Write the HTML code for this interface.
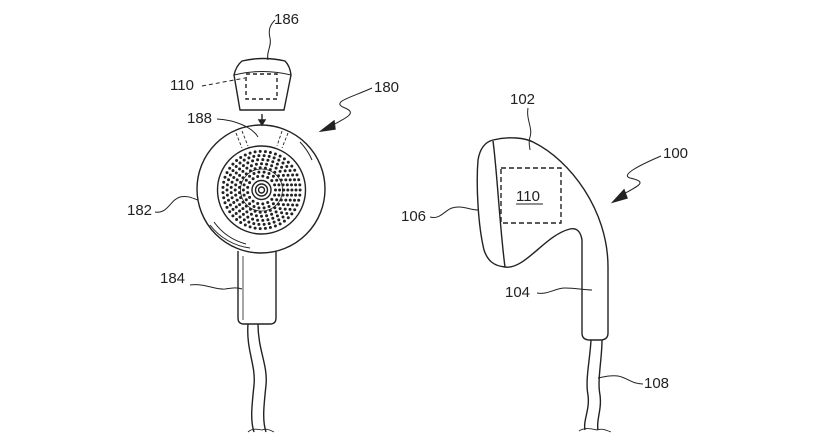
<!DOCTYPE html>
<html><head><meta charset="utf-8"><style>
html,body{margin:0;padding:0;background:#fff}
svg{display:block}
text{font-family:"Liberation Sans",sans-serif;font-size:15px;fill:#222}
</style></head><body>
<svg id="s" width="820" height="440" viewBox="0 0 820 440" xmlns="http://www.w3.org/2000/svg" fill="none" stroke="#222" stroke-width="1.4">
<circle cx="261" cy="189" r="64"/>
<path d="M210 225 A60 60 0 0 0 250 248" stroke-width="1"/>
<path d="M214 222 A58 58 0 0 0 246 244" stroke-width="1"/>
<path d="M300 142 A58 58 0 0 1 312 160" stroke-width="1"/>
<circle cx="261.5" cy="190" r="44"/>
<circle cx="261.5" cy="190" r="3"/>
<circle cx="261.5" cy="190" r="6"/>
<circle cx="261.5" cy="190" r="9.5"/>
<circle cx="261.5" cy="190" r="21" stroke-width="0.8"/>
<g id="dots" fill="#222" stroke="none"></g>
<g stroke-dasharray="3,2" stroke-width="0.9">
<path d="M236 133 L242 148"/><path d="M242 131 L248 146"/>
<path d="M282 131 L277 146"/><path d="M288 133 L282 148"/>
</g>
<path d="M238 251 L238 318 Q238 324 244 324 L270 324 Q276 324 276 318 L276 251"/>
<path d="M243 256 L243 320" stroke-width="0.8"/>
<path d="M248 324 C246 350 256 365 254 385 C252 405 250 420 254 432"/>
<path d="M258 324 C258 350 268 365 266 385 C264 405 262 420 266 432"/>
<path d="M248 432 C252 428 258 429 262 430 C266 428 270 430 274 432" stroke-width="0.9"/>
<path d="M242 61 Q263 56 285 61 Q290 66 291 75 L284 110 L240 110 L234 75 Q236 66 242 61 Z"/>
<path d="M234 75 Q262 68 291 75" stroke-width="1"/>
<rect x="246" y="74" width="31" height="25" stroke-dasharray="4,3"/>
<path d="M262 114 L262 123"/>
<path d="M259 120 L262 125 L265 120 Z" fill="#222"/>
<text x="274" y="24" stroke="none">186</text>
<path d="M275 20 C270 25 268 30 270 38 C272 46 266 52 268 60" stroke-width="1"/>
<text x="170" y="90" stroke="none">110</text>
<path d="M202 86 L245 78" stroke-dasharray="4,3" stroke-width="1"/>
<text x="187" y="123" stroke="none">188</text>
<path d="M217 119 C235 120 252 127 258 137" stroke-width="1"/>
<text x="374" y="92" stroke="none">180</text>
<path d="M372 88 C350 98 330 102 345 108 C360 114 340 120 328 128" stroke-width="1"/>
<path d="M321 131 L334 121 L335 129 Z" fill="#222"/>
<text x="127" y="215" stroke="none">182</text>
<path d="M155 212 C168 214 170 200 180 197 C188 195 194 199 198 200" stroke-width="1"/>
<text x="160" y="283" stroke="none">184</text>
<path d="M190 285 C205 283 215 290 225 289 C232 288 236 287 242 289" stroke-width="1"/>
<path d="M493 140 C510 136 525 138 533 142 C570 160 608 210 608 267 L608 333 Q608 340 600 340 L590 340 Q582 340 582 333 L582 240 Q580 227 570 229 C545 235 525 270 505 267 C495 266 488 262 484 250 C478 225 476 185 478 160 C480 148 485 142 493 140 Z"/>
<path d="M493 141 C497 170 500 230 505 267"/>
<rect x="501" y="168" width="60" height="55" stroke-dasharray="5,3"/>
<text x="516" y="201" stroke="none">110</text>
<path d="M516 204 L543 204" stroke-width="1"/>
<path d="M591 340 C590 360 585 380 588 395 C590 410 583 420 585 430"/>
<path d="M602 340 C602 360 597 380 600 395 C602 410 596 420 598 430"/>
<path d="M579 431 C585 427 592 429 597 430 C602 428 606 430 611 432" stroke-width="0.9"/>
<text x="510" y="104" stroke="none">102</text>
<path d="M528 108 C526 120 533 128 530 137 C528 143 530 147 530 150" stroke-width="1"/>
<text x="663" y="158" stroke="none">100</text>
<path d="M661 156 C640 165 620 175 630 178 C648 182 640 185 620 196" stroke-width="1"/>
<path d="M613 202 L624 190 L627 198 Z" fill="#222"/>
<text x="401" y="221" stroke="none">106</text>
<path d="M430 217 C440 220 445 210 452 208 C462 205 470 210 478 210" stroke-width="1"/>
<text x="505" y="297" stroke="none">104</text>
<path d="M537 293 C548 295 555 288 565 288 C575 288 585 290 592 290" stroke-width="1"/>
<text x="644" y="388" stroke="none">108</text>
<path d="M643 384 C632 384 628 378 618 376 C610 375 603 377 598 378" stroke-width="1"/>
</svg>
<script>
var g=document.getElementById('dots'),ns='http://www.w3.org/2000/svg',cx=261.5,cy=190;
for(var r=14;r<=41;r+=4.1){var n=Math.round(2*Math.PI*r/5.2);for(var i=0;i<n;i++){var a=i*2*Math.PI/n;var c=document.createElementNS(ns,'circle');c.setAttribute('cx',(cx+r*Math.cos(a)).toFixed(1));c.setAttribute('cy',(cy+r*Math.sin(a)).toFixed(1));c.setAttribute('r','1.5');g.appendChild(c);}}
</script>
</body></html>
